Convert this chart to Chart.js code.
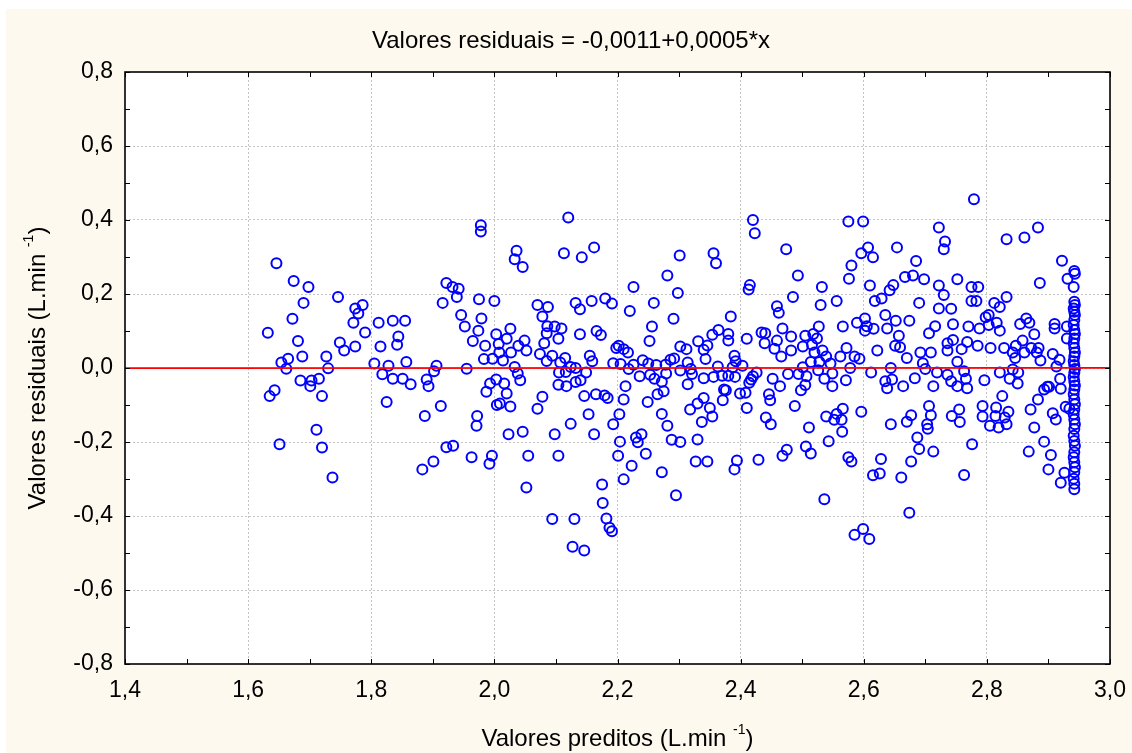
<!DOCTYPE html>
<html><head><meta charset="utf-8">
<script src="https://cdn.jsdelivr.net/npm/chart.js@4.4.1/dist/chart.umd.min.js"></script>
<style>html,body{margin:0;padding:0;background:#fff;}canvas{display:block;}</style>
</head><body>
<canvas id="c" width="1132" height="753"></canvas>
<script>
const predicted = [
1.646,1.674,1.698,1.746,1.690,1.672,1.632,1.681,1.749,1.756,1.688,1.727,1.654,1.665,1.662,1.730,1.685,1.703,1.715,1.701,1.643,1.635,1.720,1.711,1.651,1.720,1.737,
1.774,1.779,1.786,1.771,1.790,1.774,1.812,1.835,1.855,1.844,1.842,1.815,1.805,1.828,1.857,1.818,1.835,1.851,1.864,1.825,1.906,1.902,1.890,1.893,1.913,1.887,1.922,1.932,1.942,1.939,1.916,1.946,1.952,1.965,1.955,1.922,1.933,1.963,1.883,1.901,
1.978,1.978,2.120,2.036,2.033,2.046,2.113,2.142,2.162,1.975,2.000,1.979,1.974,2.003,2.026,2.020,2.007,1.985,2.039,2.049,2.052,2.027,2.008,1.983,1.997,2.014,2.033,2.038,2.042,2.070,2.087,2.078,2.086,2.098,2.109,2.104,2.085,2.081,2.074,2.094,2.085,2.107,2.115,2.132,2.139,2.158,2.139,2.166,2.173,2.155,2.159,2.105,2.116,2.124,2.132,2.149,2.104,2.117,2.132,2.140,1.993,2.003,2.016,2.020,1.987,2.004,2.009,2.026,2.078,2.070,2.146,2.165,2.153,1.972,1.971,2.023,2.046,2.098,2.124,2.162,1.992,1.996,2.055,2.104,2.052,2.094,2.130,2.127,2.146,
2.301,2.356,2.360,2.281,2.226,2.298,2.180,2.191,2.220,2.259,2.291,2.256,2.252,2.198,2.202,2.210,2.217,2.193,2.205,2.226,2.218,2.236,2.241,2.250,2.263,2.253,2.260,2.278,2.279,2.272,2.275,2.265,2.286,2.292,2.302,2.312,2.314,2.302,2.319,2.321,2.314,2.331,2.346,2.340,2.343,2.354,2.364,2.340,2.356,2.363,2.370,2.373,2.371,2.179,2.184,2.213,2.210,2.203,2.193,2.249,2.272,2.281,2.340,2.330,2.318,2.350,2.354,2.337,2.204,2.201,2.223,2.210,2.230,2.239,2.233,2.246,2.288,2.302,2.330,2.272,2.327,2.346,2.295,2.175,2.176,2.182,2.187,2.191,
2.420,2.423,2.474,2.493,2.415,2.413,2.532,2.485,2.459,2.462,2.530,2.556,2.384,2.575,2.580,2.576,2.380,2.380,2.410,2.434,2.440,2.439,2.459,2.455,2.466,2.468,2.482,2.482,2.505,2.518,2.524,2.501,2.516,2.520,2.527,2.533,2.566,2.390,2.392,2.403,2.387,2.380,2.391,2.376,2.417,2.420,2.426,2.414,2.452,2.464,2.477,2.494,2.507,2.505,2.498,2.501,2.514,2.528,2.539,2.546,2.562,2.572,2.578,2.526,2.536,2.549,2.549,2.571,2.399,2.408,2.446,2.448,2.410,2.488,2.441,2.449,2.511,2.539,2.552,2.556,2.566,2.564,2.565,2.543,2.394,2.390,2.429,2.468,2.475,2.506,2.514,2.575,2.580,2.536,
2.779,2.599,2.722,2.732,2.730,2.596,2.607,2.615,2.654,2.685,2.667,2.680,2.698,2.752,2.610,2.642,2.648,2.618,2.629,2.722,2.730,2.775,2.775,2.690,2.722,2.742,2.635,2.589,2.602,2.605,2.602,2.616,2.638,2.652,2.674,2.657,2.651,2.659,2.716,2.706,2.745,2.770,2.622,2.670,2.692,2.709,2.696,2.700,2.585,2.593,2.736,2.736,2.745,2.759,2.768,2.752,2.612,2.644,2.646,2.635,2.638,2.664,2.683,2.713,2.719,2.736,2.742,2.752,2.763,2.766,2.768,2.596,2.644,2.670,2.677,2.706,2.709,2.703,2.704,2.743,2.755,2.756,2.687,2.690,2.713,2.776,2.628,2.615,2.626,2.661,2.677,2.763,2.674,2.585,2.599,2.609,
2.832,2.861,2.883,2.922,2.886,2.931,2.786,2.783,2.832,2.812,2.821,2.803,2.798,2.803,2.816,2.821,2.788,2.785,2.806,2.828,2.842,2.847,2.858,2.861,2.846,2.854,2.864,2.869,2.877,2.872,2.881,2.884,2.887,2.910,2.910,2.907,2.918,2.913,2.930,2.930,2.821,2.796,2.842,2.851,2.837,2.850,2.825,2.793,2.793,2.805,2.815,2.814,2.819,2.832,2.835,2.829,2.871,2.877,2.883,2.893,2.898,2.901,2.919,2.920,2.907,2.912,2.868,2.893,2.904,2.900,2.920,2.926,2.928,2.934,
2.942,2.943,2.941,2.942,2.943,2.941,2.942,2.943,2.942,2.941,2.942,2.943,2.942,2.941,2.942,2.943,2.942,2.941,2.942,2.943,2.942,2.941,2.942,2.943,2.942,2.941,2.942,2.943,2.942,2.941,2.942,2.943,2.942,2.941,2.942,2.943,2.942,2.941,2.942,2.943,2.942,2.941,2.942,2.942
];
const residual = [
0.283,0.235,0.219,0.192,0.176,0.133,0.095,0.073,0.069,0.047,0.031,0.031,0.015,0.025,-0.002,-0.001,-0.034,-0.034,-0.029,-0.049,-0.060,-0.076,-0.076,-0.167,-0.206,-0.215,-0.296,
0.161,0.147,0.170,0.122,0.096,0.058,0.122,0.128,0.128,0.085,0.063,0.058,0.012,0.006,0.016,-0.017,-0.029,-0.029,-0.044,-0.092,0.006,-0.009,-0.031,-0.049,-0.103,-0.130,0.230,0.219,0.214,0.192,0.176,0.143,0.112,0.073,-0.002,-0.214,-0.210,-0.241,-0.274,-0.253,
0.386,0.369,0.407,0.317,0.294,0.273,0.310,0.299,0.326,0.186,0.181,0.134,0.101,0.091,0.106,0.079,0.065,0.060,0.060,0.074,0.047,0.042,0.042,0.024,0.025,0.020,0.003,-0.015,-0.033,0.170,0.165,0.139,0.113,0.112,0.107,0.079,0.094,0.067,0.038,0.033,0.019,0.015,0.027,0.176,0.159,0.181,0.091,0.100,0.089,0.033,0.018,-0.012,-0.011,0.003,0.000,-0.012,-0.045,-0.049,-0.038,-0.033,-0.042,-0.031,-0.042,-0.069,-0.064,-0.100,-0.096,-0.104,-0.078,-0.110,-0.076,-0.071,-0.125,-0.130,-0.156,-0.179,-0.172,-0.179,-0.151,-0.179,-0.259,-0.237,-0.237,-0.237,-0.323,-0.408,-0.408,-0.483,-0.493,
0.304,0.310,0.283,0.250,0.219,0.203,0.188,0.174,0.154,0.176,0.133,0.112,0.073,0.054,0.060,0.051,0.042,0.013,0.011,0.009,-0.003,-0.022,0.021,0.012,0.008,-0.018,-0.029,0.009,-0.015,-0.037,-0.063,-0.071,0.022,0.026,0.058,0.051,0.015,-0.007,-0.003,-0.016,-0.044,0.072,0.061,0.049,0.024,0.090,0.103,-0.028,-0.024,0.004,-0.021,-0.058,-0.087,-0.074,-0.081,-0.049,-0.085,-0.125,-0.152,-0.092,-0.124,-0.156,-0.081,-0.096,-0.112,-0.108,-0.131,-0.146,-0.199,-0.237,-0.264,-0.301,-0.188,-0.179,-0.201,-0.232,-0.194,-0.200,-0.193,-0.282,-0.253,-0.253,-0.344,-0.315,-0.365,-0.407,-0.432,-0.441,
0.400,0.364,0.321,0.250,0.224,0.212,0.219,0.192,0.167,0.149,0.170,0.181,0.139,0.396,0.277,0.241,0.092,0.074,0.079,0.096,0.094,0.067,0.074,0.052,0.031,0.107,0.085,0.047,0.087,0.092,0.080,0.058,0.063,0.042,0.112,0.047,0.112,0.033,0.018,0.006,0.002,-0.021,-0.024,-0.060,-0.031,-0.022,-0.012,-0.040,-0.029,-0.049,-0.016,-0.016,-0.022,-0.046,-0.060,0.002,0.016,0.016,0.031,0.012,0.031,0.054,0.000,-0.006,-0.029,-0.015,-0.049,-0.033,-0.069,-0.067,-0.071,-0.087,-0.108,-0.103,-0.134,-0.152,-0.161,-0.131,-0.140,-0.124,-0.110,-0.140,-0.172,-0.198,-0.250,-0.274,-0.248,-0.237,-0.221,-0.212,-0.231,-0.241,-0.253,-0.355,
0.456,0.396,0.380,0.342,0.321,0.310,0.326,0.299,0.326,0.289,0.246,0.250,0.240,0.240,0.223,0.210,0.224,0.181,0.188,0.223,0.197,0.219,0.181,0.176,0.161,0.160,0.143,0.122,0.134,0.113,0.101,0.106,0.107,0.128,0.128,0.087,0.060,0.056,0.113,0.094,0.118,0.112,0.047,0.027,0.042,0.042,0.013,-0.003,0.031,0.025,0.067,0.047,0.076,0.051,0.070,0.017,-0.012,0.000,-0.031,-0.036,-0.055,-0.049,-0.028,-0.049,-0.012,-0.018,-0.036,-0.049,-0.009,-0.029,-0.055,-0.118,-0.152,-0.145,-0.128,-0.103,-0.128,-0.152,-0.164,-0.130,-0.112,-0.146,-0.188,-0.219,-0.226,-0.206,-0.246,-0.290,-0.285,-0.296,-0.253,-0.289,-0.391,-0.451,-0.435,-0.462,
0.348,0.353,0.380,0.290,0.230,0.241,0.219,0.181,0.192,0.176,0.165,0.143,0.137,0.116,0.122,0.101,0.107,0.060,0.054,0.054,0.042,0.060,0.074,0.042,0.027,0.119,0.134,0.122,0.091,0.054,0.042,0.054,0.020,0.119,0.107,0.038,0.022,0.004,0.112,0.080,-0.012,-0.033,-0.004,-0.012,-0.029,-0.042,-0.076,-0.103,-0.131,-0.156,-0.107,-0.130,-0.161,-0.152,-0.118,-0.134,-0.112,-0.161,-0.085,-0.058,-0.051,-0.051,-0.029,-0.056,-0.122,-0.139,-0.226,-0.199,-0.235,-0.274,-0.310,-0.283,-0.105,-0.110,
0.262,0.255,0.219,0.179,0.170,0.161,0.152,0.143,0.130,0.116,0.103,0.092,0.080,0.067,0.054,0.042,0.031,0.018,0.008,-0.003,-0.013,-0.024,-0.036,-0.047,-0.058,-0.071,-0.085,-0.098,-0.112,-0.125,-0.139,-0.152,-0.165,-0.183,-0.197,-0.210,-0.228,-0.241,-0.255,-0.268,-0.282,-0.299,-0.313,-0.328
];
const fitX = [1.4, 3.0];
const fitY = [-0.0004, 0.0004];
const xTickLabels = ['1,4','1,6','1,8','2,0','2,2','2,4','2,6','2,8','3,0'];
const yTickLabels = ['-0,8','-0,6','-0,4','-0,2','0,0','0,2','0,4','0,6','0,8'];
const minorStep = 0.1;
const titleText = 'Valores residuais = -0,0011+0,0005*x';
const xTitleParts = ['Valores preditos (L.min ', '-1', ')'];
const yTitleParts = ['Valores residuais (L.min ', '-1', ')'];

const FONT = "'Liberation Sans', Arial, sans-serif";
const points = predicted.map((x, i) => ({x: x, y: residual[i]}));
const fitLine = fitX.map((x, i) => ({x: x, y: fitY[i]}));

function drawSupText(ctx, parts, size, cx, cy) {
  const small = Math.round(size * 0.6);
  ctx.font = size + 'px ' + FONT;
  const w0 = ctx.measureText(parts[0]).width;
  const w2 = ctx.measureText(parts[2]).width;
  ctx.font = small + 'px ' + FONT;
  const w1 = ctx.measureText(parts[1]).width;
  const total = w0 + w1 + w2;
  let x = cx - total / 2;
  ctx.textBaseline = 'middle';
  ctx.textAlign = 'left';
  ctx.font = size + 'px ' + FONT;
  ctx.fillText(parts[0], x, cy);
  x += w0;
  ctx.font = small + 'px ' + FONT;
  ctx.fillText(parts[1], x, cy - size * 0.38);
  x += w1;
  ctx.font = size + 'px ' + FONT;
  ctx.fillText(parts[2], x, cy);
}

const decor = {
  id: 'decor',
  beforeDraw(chart) {
    const ctx = chart.ctx, a = chart.chartArea;
    ctx.save();
    ctx.fillStyle = '#ffffff';
    ctx.fillRect(0, 0, chart.width, chart.height);
    ctx.fillStyle = '#fdf9ef';
    ctx.fillRect(6, 9, chart.width - 6, chart.height - 9);
    ctx.fillStyle = '#ffffff';
    ctx.fillRect(a.left, a.top, a.right - a.left, a.bottom - a.top);
    ctx.restore();
  },
  afterDraw(chart) {
    const ctx = chart.ctx, a = chart.chartArea;
    const xs = chart.scales.x, ys = chart.scales.y;
    ctx.save();
    ctx.strokeStyle = '#000';
    ctx.lineWidth = 1;
    const tl = 5;
    for (let v = xs.min; v <= xs.max + 1e-9; v += minorStep) {
      const p = Math.round(xs.getPixelForValue(v)) + 0.5;
      ctx.beginPath();
      ctx.moveTo(p, a.bottom); ctx.lineTo(p, a.bottom - tl);
      ctx.moveTo(p, a.top); ctx.lineTo(p, a.top + tl);
      ctx.stroke();
    }
    for (let v = ys.min; v <= ys.max + 1e-9; v += minorStep) {
      const p = Math.round(ys.getPixelForValue(v)) + 0.5;
      ctx.beginPath();
      ctx.moveTo(a.left, p); ctx.lineTo(a.left + tl, p);
      ctx.moveTo(a.right, p); ctx.lineTo(a.right - tl, p);
      ctx.stroke();
    }
    ctx.lineWidth = 1.6;
    ctx.strokeRect(a.left, a.top, a.right - a.left, a.bottom - a.top);
    ctx.fillStyle = '#000';
    ctx.font = '24px ' + FONT;
    ctx.textAlign = 'center';
    ctx.textBaseline = 'middle';
    ctx.fillText(titleText, 571, 41);
    drawSupText(ctx, xTitleParts, 24, (a.left + a.right) / 2, 739);
    ctx.translate(38, (a.top + a.bottom) / 2);
    ctx.rotate(-Math.PI / 2);
    drawSupText(ctx, yTitleParts, 24, 0, 0);
    ctx.restore();
  }
};

new Chart(document.getElementById('c'), {
  type: 'scatter',
  data: {
    datasets: [
      {
        type: 'line',
        data: fitLine,
        borderColor: '#ff0000',
        borderWidth: 1.6,
        pointRadius: 0,
        fill: false,
        tension: 0
      },
      {
        data: points,
        pointStyle: 'circle',
        pointRadius: 5,
        pointHoverRadius: 5,
        borderColor: '#0000ff',
        backgroundColor: 'rgba(0,0,0,0)',
        pointBorderWidth: 2,
        borderWidth: 2
      }
    ]
  },
  options: {
    responsive: false,
    animation: false,
    events: [],
    layout: { padding: { left: 0, top: 72, right: 22, bottom: 0 } },
    plugins: { legend: { display: false }, tooltip: { enabled: false }, title: { display: false } },
    scales: {
      x: {
        type: 'linear', min: 1.4, max: 3.0,
        afterFit(s) { s.height = 89; s.paddingRight = 0; s.paddingLeft = 0; },
        ticks: {
          stepSize: 0.2, autoSkip: false, maxRotation: 0, padding: 13,
          color: '#000', font: { family: FONT, size: 23 },
          callback: (v, i) => xTickLabels[i]
        },
        grid: {
          drawTicks: false,
          lineWidth: 1,
          color: (c) => (c.index === 0 || c.index === xTickLabels.length - 1) ? 'rgba(0,0,0,0)' : '#c4c4c4'
        },
        border: { display: false, dash: [2, 2] }
      },
      y: {
        type: 'linear', min: -0.8, max: 0.8,
        afterFit(s) { s.width = 125; s.paddingTop = 0; s.paddingBottom = 0; },
        ticks: {
          stepSize: 0.2, autoSkip: false, padding: 12,
          color: '#000', font: { family: FONT, size: 23 },
          callback: (v, i) => yTickLabels[i]
        },
        grid: {
          drawTicks: false,
          lineWidth: 1,
          color: (c) => (c.index === 0 || c.index === yTickLabels.length - 1) ? 'rgba(0,0,0,0)' : '#c4c4c4'
        },
        border: { display: false, dash: [2, 2] }
      }
    }
  },
  plugins: [decor]
});
</script>
</body></html>
